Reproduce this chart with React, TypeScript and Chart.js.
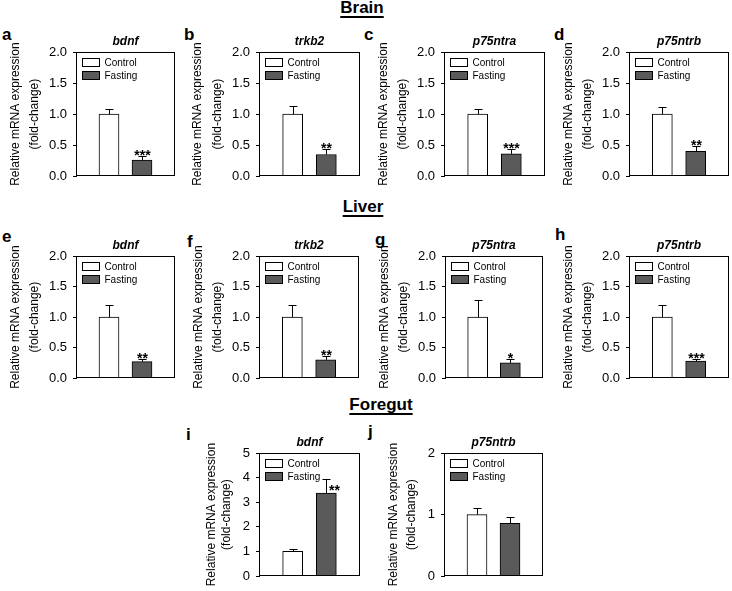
import React, { useEffect, useRef } from 'react';
import { Chart, registerables } from 'chart.js';

Chart.register(...registerables);

const FONT = "'Liberation Sans', Arial, Helvetica, sans-serif";

// ---------- data ----------
const tissues = ['Brain', 'Liver', 'Foregut'];
const panelLetters = ['a', 'b', 'c', 'd', 'e', 'f', 'g', 'h', 'i', 'j'];
const genes = ['bdnf', 'trkb2', 'p75ntra', 'p75ntrb', 'bdnf', 'trkb2', 'p75ntra', 'p75ntrb', 'bdnf', 'p75ntrb'];
const groupLabels = ['Control', 'Fasting'];
const xCategories = ['', 'Control', 'Fasting', ''];
const controlMeans = [1.0, 1.0, 1.0, 1.0, 1.0, 1.0, 1.0, 1.0, 1.01, 1.0];
const controlErrors = [0.08, 0.13, 0.08, 0.12, 0.2, 0.2, 0.28, 0.2, 0.1, 0.1];
const fastingMeans = [0.26, 0.35, 0.36, 0.4, 0.27, 0.3, 0.25, 0.28, 3.37, 0.86];
const fastingErrors = [0.06, 0.08, 0.07, 0.08, 0.05, 0.06, 0.07, 0.04, 0.59, 0.1];
const significance = ['***', '**', '***', '**', '**', '**', '*', '***', '**', ''];
const yMaxima = [2, 2, 2, 2, 2, 2, 2, 2, 5, 2];
const yTickSteps = [0.5, 0.5, 0.5, 0.5, 0.5, 0.5, 0.5, 0.5, 1, 1];
const yTitleLines = ['Relative mRNA expression', '(fold-change)'];

// ---------- layout / style (not data) ----------
const plotBoxes = [
  { l: 76, t: 52, r: 175, b: 180 },
  { l: 259, t: 52, r: 360, b: 180 },
  { l: 444, t: 52, r: 545, b: 180 },
  { l: 629, t: 52, r: 729, b: 180 },
  { l: 76, t: 256, r: 175, b: 382 },
  { l: 259, t: 256, r: 359, b: 382 },
  { l: 445, t: 256, r: 543, b: 382 },
  { l: 629, t: 256, r: 729, b: 382 },
  { l: 259, t: 453, r: 360, b: 580 },
  { l: 444, t: 453, r: 543, b: 580 },
];
const letterPositions = [
  { x: 2, base: 40 }, { x: 184, base: 40 }, { x: 364, base: 40 }, { x: 554, base: 40 },
  { x: 2, base: 242 }, { x: 187, base: 247 }, { x: 375, base: 245 }, { x: 555, base: 240 },
  { x: 186, base: 440 }, { x: 368, base: 437 },
];
const headingPositions = [
  { cx: 362, base: 13.5 },
  { cx: 363, base: 212.5 },
  { cx: 381, base: 410.5 },
];
// distance from plot left to first y-title line centre, and line spacing
const yTitleLayout = [
  { off: 60, lh: 19 }, { off: 61, lh: 20 }, { off: 60, lh: 19 }, { off: 60, lh: 19 },
  { off: 60, lh: 19 }, { off: 60, lh: 19 }, { off: 60, lh: 19 }, { off: 60, lh: 19 },
  { off: 47, lh: 15 }, { off: 50, lh: 18 },
];
const starOffsets = [
  { dx: 0, dy: 3.5 }, { dx: 0, dy: 3.5 }, { dx: 0, dy: 3.5 }, { dx: 0, dy: 3.5 },
  { dx: 0, dy: 3.5 }, { dx: 0, dy: 3.5 }, { dx: 0, dy: 3.5 }, { dx: 0, dy: 3.5 },
  { dx: 8, dy: 15 }, { dx: 0, dy: 3.5 },
];

const CONTROL_FILL = '#ffffff';
const FASTING_FILL = '#5a5a5a';
const AXIS_W = 76;
const PAD_T = 30;
const PAD_R = 4;
const PAD_B = 10;

function Panel({ idx }: { idx: number }) {
  const ref = useRef<HTMLCanvasElement | null>(null);
  const box = plotBoxes[idx];
  const cw = box.r - box.l + AXIS_W + PAD_R;
  const ch = box.b - box.t + PAD_T + PAD_B;

  useEffect(() => {
    if (!ref.current) return;
    const means = [null, controlMeans[idx], fastingMeans[idx], null];
    const errs = [0, controlErrors[idx], fastingErrors[idx], 0];
    const step = yTickSteps[idx];
    const tl = yTitleLayout[idx];
    const so = starOffsets[idx];

    const deco = {
      id: 'deco' + idx,
      afterDatasetsDraw(chart: any) {
        const ctx = chart.ctx;
        const meta = chart.getDatasetMeta(0);
        const yScale = chart.scales.y;
        ctx.save();
        ctx.strokeStyle = '#000';
        ctx.lineWidth = 1;
        for (let i = 1; i <= 2; i++) {
          const el = meta.data[i];
          const v = means[i] as number;
          const px = Math.round(el.x) + 0.5;
          const yTop = el.y;
          const yErr = Math.round(yScale.getPixelForValue(v + errs[i])) + 0.5;
          ctx.beginPath();
          ctx.moveTo(px, yTop);
          ctx.lineTo(px, yErr);
          ctx.moveTo(px - 4, yErr);
          ctx.lineTo(px + 4, yErr);
          ctx.stroke();
          if (i === 2 && significance[idx]) {
            ctx.fillStyle = '#000';
            ctx.font = `bold 14px ${FONT}`;
            ctx.textAlign = 'center';
            ctx.textBaseline = 'alphabetic';
            ctx.fillText(significance[idx], px + so.dx, yErr + so.dy);
          }
        }
        ctx.restore();
      },
      afterDraw(chart: any) {
        const ctx = chart.ctx;
        const a = chart.chartArea;
        ctx.save();
        ctx.strokeStyle = '#000';
        ctx.lineWidth = 1;
        const L = Math.round(a.left) + 0.5;
        const T = Math.round(a.top) + 0.5;
        const R = Math.round(a.right) - 0.5;
        const B = Math.round(a.bottom) - 0.5;
        ctx.strokeRect(L, T, R - L, B - T);
        // gene title
        ctx.fillStyle = '#000';
        ctx.font = `italic bold 12px ${FONT}`;
        ctx.textAlign = 'center';
        ctx.textBaseline = 'alphabetic';
        ctx.fillText(genes[idx], (a.left + a.right) / 2, a.top - 7);
        // legend
        const fills = [CONTROL_FILL, FASTING_FILL];
        ctx.font = `10px ${FONT}`;
        ctx.textAlign = 'left';
        ctx.textBaseline = 'middle';
        for (let k = 0; k < 2; k++) {
          const bx = L + 6;
          const by = T + 6 + 13 * k;
          ctx.fillStyle = fills[k];
          ctx.fillRect(bx, by, 17, 8);
          ctx.strokeRect(bx, by, 17, 8);
          ctx.fillStyle = '#000';
          ctx.fillText(groupLabels[k], bx + 22, by + 4.5);
        }
        ctx.restore();
      },
    };

    const chart = new Chart(ref.current, {
      type: 'bar',
      data: {
        labels: xCategories,
        datasets: [
          {
            data: means as any,
            backgroundColor: [CONTROL_FILL, CONTROL_FILL, FASTING_FILL, FASTING_FILL],
            borderColor: '#000',
            borderWidth: 1,
            barThickness: 20,
          },
        ],
      },
      options: {
        responsive: false,
        animation: false,
        devicePixelRatio: 1,
        layout: { padding: { top: PAD_T, right: PAD_R, bottom: PAD_B, left: 0 } },
        plugins: { legend: { display: false }, tooltip: { enabled: false }, title: { display: false } },
        scales: {
          x: { type: 'category', display: false, offset: false },
          y: {
            min: 0,
            max: yMaxima[idx],
            afterFit: (scale: any) => {
              scale.width = AXIS_W;
            },
            ticks: {
              stepSize: step,
              color: '#000',
              padding: 6,
              font: { family: FONT, size: 13 },
              callback: (v: any) => (step < 1 ? Number(v).toFixed(1) : String(v)),
            },
            grid: {
              display: true,
              drawOnChartArea: false,
              drawTicks: true,
              tickLength: 3,
              color: '#000',
              lineWidth: 1,
            },
            border: { display: true, color: '#000', width: 1 },
            title: {
              display: true,
              text: yTitleLines,
              color: '#000',
              font: { family: FONT, size: 12, lineHeight: tl.lh / 12 },
              padding: { top: AXIS_W - tl.off - tl.lh / 2, bottom: 0 },
            },
          },
        },
      },
      plugins: [deco],
    });
    return () => chart.destroy();
  }, [idx]);

  return (
    <canvas
      ref={ref}
      width={cw}
      height={ch}
      style={{
        position: 'absolute',
        left: box.l - AXIS_W,
        top: box.t - PAD_T,
        width: cw,
        height: ch,
      }}
    />
  );
}

export default function App() {
  return (
    <div
      style={{
        position: 'absolute',
        left: 0,
        top: 0,
        width: 732,
        height: 591,
        background: '#fff',
        overflow: 'hidden',
        fontFamily: FONT,
        color: '#000',
      }}
    >
      {tissues.map((t, i) => (
        <div
          key={t}
          style={{
            position: 'absolute',
            left: headingPositions[i].cx - 100,
            width: 200,
            top: headingPositions[i].base - 14.4,
            textAlign: 'center',
            fontWeight: 'bold',
            fontSize: 17,
            lineHeight: '17px',
            textDecoration: 'underline',
            textDecorationThickness: '2px',
            textUnderlineOffset: '3px',
            textDecorationSkipInk: 'none',
          } as React.CSSProperties}
        >
          {t}
        </div>
      ))}
      {panelLetters.map((p, i) => (
        <div
          key={p}
          style={{
            position: 'absolute',
            left: letterPositions[i].x,
            top: letterPositions[i].base - 14.4,
            fontWeight: 'bold',
            fontSize: 17,
            lineHeight: '17px',
          }}
        >
          {p}
        </div>
      ))}
      {panelLetters.map((p, i) => (
        <Panel key={'panel-' + p} idx={i} />
      ))}
    </div>
  );
}
